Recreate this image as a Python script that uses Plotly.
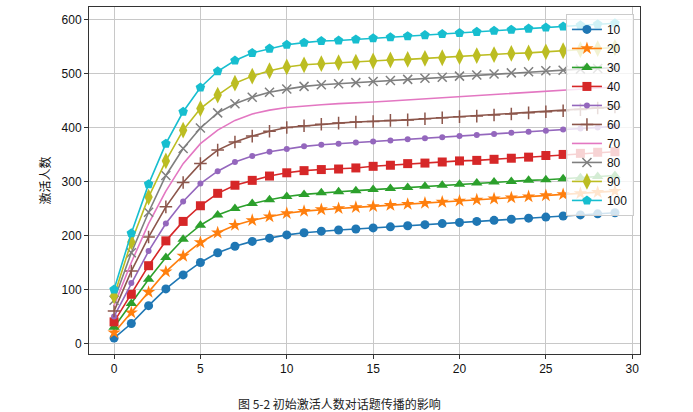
import plotly.graph_objects as go

x_steps = list(range(30))
series_names = ["10", "20", "30", "40", "50", "60", "70", "80", "90", "100"]

s10 = [10, 37, 70, 101, 127, 150, 168, 180, 189, 195, 201, 205, 208, 210, 212, 214, 216, 218, 220, 222, 224, 226, 228, 230, 232, 234, 236, 238, 240, 242]
s20 = [20, 57, 95, 133, 162, 187, 205, 219, 228, 235, 241, 245, 248, 250, 252, 254, 256, 258, 260, 262, 264, 266, 268, 270, 272, 274, 276, 278, 280, 282]
s30 = [30, 74, 119, 159, 193, 219, 238, 250, 259, 266, 272, 276, 279, 281, 283, 285, 287, 289, 291, 293, 295, 297, 299, 300, 302, 303, 305, 307, 309, 311]
s40 = [40, 91, 144, 190, 226, 255, 278, 293, 302, 310, 316, 320, 322, 323, 325, 328, 330, 333, 334, 336, 338, 339, 341, 343, 345, 348, 350, 352, 354, 355]
s50 = [50, 112, 171, 222, 263, 296, 319, 336, 347, 355, 360, 365, 368, 370, 372, 374, 376, 378, 380, 382, 384, 386, 388, 390, 392, 394, 396, 398, 400, 402]
s60 = [60, 134, 197, 253, 298, 333, 358, 373, 384, 393, 400, 403, 406, 408, 410, 411, 413, 414, 416, 418, 420, 421, 423, 425, 427, 429, 431, 433, 436, 438]
s70 = [70, 150, 222, 282, 333, 370, 395, 413, 425, 432, 437, 440, 442, 444, 445, 447, 449, 451, 453, 455, 457, 459, 461, 463, 465, 467, 469, 471, 473, 475]
s80 = [80, 168, 243, 311, 361, 399, 427, 444, 456, 465, 471, 476, 479, 481, 483, 485, 487, 489, 491, 493, 495, 497, 499, 501, 503, 505, 506, 508, 509, 511]
s90 = [88, 188, 271, 338, 395, 435, 460, 482, 495, 505, 512, 516, 518, 520, 521, 523, 525, 526, 528, 529, 531, 533, 535, 537, 538, 540, 542, 544, 546, 548]
s100 = [100, 204, 295, 370, 429, 474, 504, 524, 538, 546, 553, 557, 560, 561, 563, 565, 567, 569, 571, 573, 575, 577, 579, 581, 583, 585, 587, 589, 591, 593]

all_series = [s10, s20, s30, s40, s50, s60, s70, s80, s90, s100]

colors = ["#1f77b4", "#ff7f0e", "#2ca02c", "#d62728", "#9467bd",
          "#8c564b", "#e377c2", "#7f7f7f", "#bcbd22", "#17becf"]
symbols = ["circle", "star", "triangle-up", "square", "circle",
           "cross-thin-open", None, "x-thin-open", "diamond-tall", "pentagon"]
sizes = [9, 10, 10, 9, 6, 9, 0, 9, 12, 10]

fig = go.Figure()
for name, ys, col, sym, sz in zip(series_names, all_series, colors, symbols, sizes):
    if sym is None:
        fig.add_trace(go.Scatter(x=x_steps, y=ys, name=name, mode="lines",
                                 line=dict(color=col, width=1.6)))
    else:
        mk = dict(symbol=sym, size=sz, color=col)
        if "open" in sym:
            mk["line"] = dict(color=col, width=1.5)
        else:
            mk["line"] = dict(width=0)
        fig.add_trace(go.Scatter(x=x_steps, y=ys, name=name, mode="lines+markers",
                                 line=dict(color=col, width=1.6), marker=mk))

axis_common = dict(
    showgrid=True, gridcolor="#c8c8c8", gridwidth=1,
    showline=True, linecolor="#333333", linewidth=1, mirror=True,
    ticks="outside", ticklen=4, tickcolor="#333333",
    zeroline=False,
    tickfont=dict(family="Liberation Sans, Arial, sans-serif", size=12, color="#111111"),
)

fig.update_layout(
    width=693, height=412,
    margin=dict(l=89, r=53, t=7, b=58),
    paper_bgcolor="white", plot_bgcolor="white",
    xaxis=dict(range=[-1.45, 30.45], tickvals=[0, 5, 10, 15, 20, 25, 30], **axis_common),
    yaxis=dict(range=[-19.5, 623], tickvals=[0, 100, 200, 300, 400, 500, 600],
               title=dict(text="激活人数", font=dict(family="Noto Sans CJK SC", size=12, color="#111111"),
                          standoff=8),
               **axis_common),
    legend=dict(x=0.989, y=0.98, xanchor="right", yanchor="top",
                bgcolor="rgba(255,255,255,0.8)", bordercolor="#cccccc", borderwidth=1,
                font=dict(family="Liberation Sans, Arial, sans-serif", size=12, color="#111111"),
                itemwidth=30, tracegroupgap=0),
    showlegend=True,
)

fig.add_annotation(
    text="图 5-2 初始激活人数对话题传播的影响",
    xref="paper", yref="paper", x=0.455, y=-0.144, xanchor="center", yanchor="middle",
    showarrow=False,
    font=dict(family="Noto Sans CJK SC", size=12, color="#222222"),
)

fig.write_html("out.html", config={"displayModeBar": False},
               post_script="document.body.style.margin='0';document.body.style.overflow='hidden';")
